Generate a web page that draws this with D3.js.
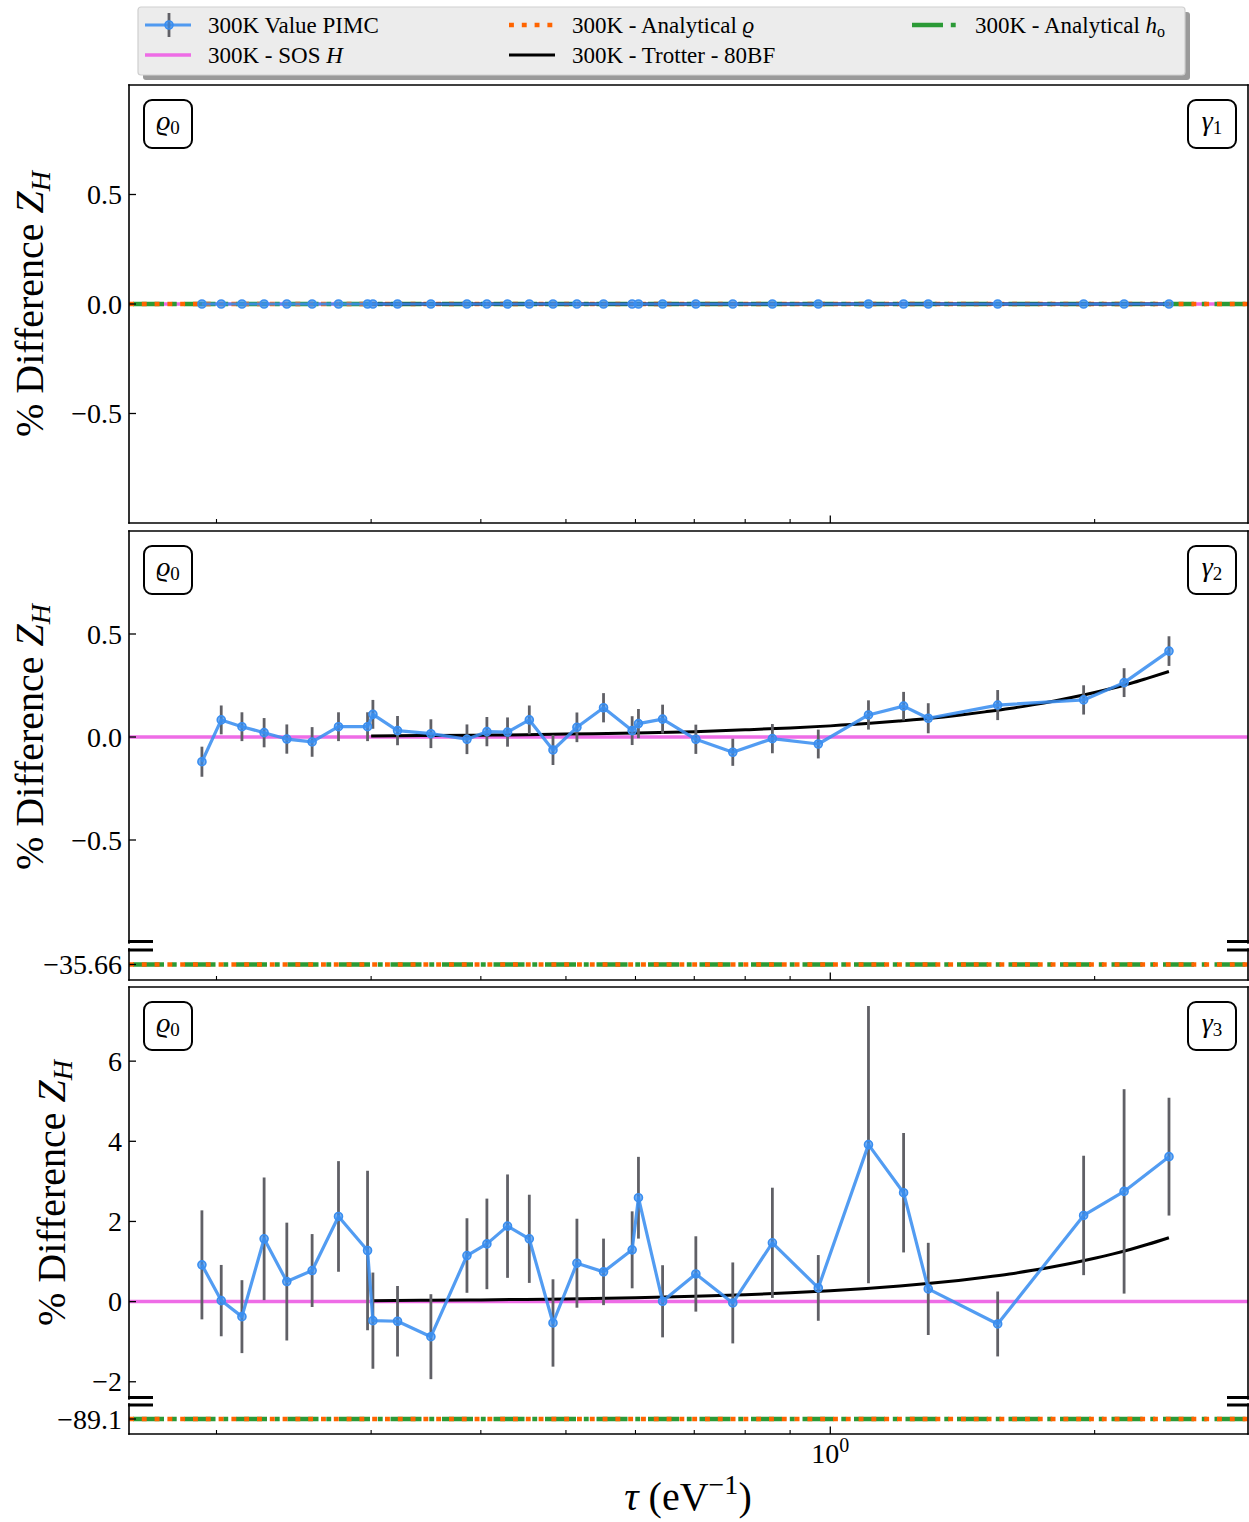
<!DOCTYPE html>
<html>
<head>
<meta charset="utf-8">
<script src="https://cdn.jsdelivr.net/npm/d3@7"></script>
<style>
  body { margin: 0; background: #fff; }
  svg { display: block; }
</style>
</head>
<body>
<svg id="chart" width="1249" height="1522"></svg>
<script>
// ---- data -------------------------------------------------------------
// imaginary-time step tau (eV^-1) of the PIMC runs
const tau = [0.1925, 0.2025, 0.2138, 0.2266, 0.2405, 0.2570, 0.2754, 0.2972,
             0.3014, 0.3215, 0.3509, 0.3857, 0.4064, 0.4290, 0.4542, 0.4833,
             0.5146, 0.5518, 0.5948, 0.6047, 0.6442, 0.7029, 0.7744, 0.8591,
             0.9690, 1.1053, 1.2119, 1.2929, 1.5510, 1.9431, 2.1606, 2.4305];

// % difference of Z_H for the three coupling cases
const pimcG1 = [0, 0, 0, 0, 0, 0, 0, 0, 0, 0, 0, 0, 0, 0, 0, 0,
                0, 0, 0, 0, 0, 0, 0, 0, 0, 0, 0, 0, 0, 0, 0, 0];
const errG1  = [0.004, 0.004, 0.004, 0.004, 0.004, 0.004, 0.004, 0.004,
                0.004, 0.004, 0.004, 0.004, 0.004, 0.004, 0.004, 0.004,
                0.004, 0.004, 0.004, 0.004, 0.004, 0.004, 0.004, 0.004,
                0.004, 0.004, 0.004, 0.004, 0.004, 0.004, 0.004, 0.004];

const pimcG2 = [-0.120, 0.083, 0.050, 0.021, -0.010, -0.024, 0.050, 0.050,
                 0.110, 0.031, 0.016, -0.011, 0.026, 0.024, 0.083, -0.063,
                 0.047, 0.142, 0.031, 0.065, 0.087, -0.011, -0.074, -0.008,
                -0.034, 0.107, 0.150, 0.091, 0.155, 0.180, 0.264, 0.417];
const errG2  = [0.073, 0.070, 0.070, 0.071, 0.071, 0.072, 0.070, 0.070,
                0.070, 0.071, 0.070, 0.072, 0.071, 0.071, 0.070, 0.073,
                0.072, 0.071, 0.070, 0.071, 0.070, 0.071, 0.066, 0.071,
                0.070, 0.071, 0.069, 0.073, 0.073, 0.071, 0.070, 0.072];

const pimcG3 = [0.917, 0.025, -0.375, 1.567, 0.500, 0.775, 2.125, 1.275,
               -0.475, -0.490, -0.875, 1.150, 1.440, 1.883, 1.567, -0.533,
                0.958, 0.742, 1.292, 2.592, 0.008, 0.690, -0.033, 1.467,
                0.342, 3.917, 2.717, 0.317, -0.558, 2.150, 2.750, 3.617];
const errG3  = [1.36, 0.89, 0.91, 1.53, 1.47, 0.91, 1.38, 1.99,
                1.20, 0.88, 1.06, 0.93, 1.13, 1.29, 1.10, 1.09,
                1.11, 0.83, 0.96, 1.02, 0.90, 0.94, 1.01, 1.375,
                0.82, 3.46, 1.49, 1.15, 0.81, 1.49, 2.55, 1.47];

// Trotter (80 beads) reference curve
const trotterTau = [0.30, 0.35, 0.40, 0.45, 0.50, 0.60, 0.70, 0.80, 0.90, 1.00,
                    1.10, 1.20, 1.30, 1.40, 1.50, 1.60, 1.70, 1.80, 1.90, 2.00,
                    2.10, 2.20, 2.30, 2.43];
const trotterG1 = [0, 0, 0, 0, 0, 0, 0, 0, 0, 0, 0, 0,
                   0, 0, 0, 0, 0, 0, 0, 0, 0, 0, 0, 0];
const trotterG2 = [0.005, 0.007, 0.009, 0.011, 0.014, 0.019, 0.026, 0.035, 0.044, 0.054,
                   0.065, 0.078, 0.091, 0.106, 0.122, 0.138, 0.156, 0.175, 0.195, 0.216,
                   0.238, 0.261, 0.286, 0.318];
const trotterG3 = [0.024, 0.033, 0.043, 0.055, 0.068, 0.097, 0.132, 0.173, 0.219, 0.270,
                   0.327, 0.389, 0.456, 0.529, 0.608, 0.690, 0.780, 0.875, 0.975, 1.080,
                   1.190, 1.307, 1.430, 1.594];

// constant reference levels per panel
const analyticalRho = [0, -35.66, -89.1];
const analyticalHo  = [0, -35.66, -89.1];
const sosH          = [0, 0, 0];

// tick values
const yTicksFine  = [-0.5, 0, 0.5];
const yTicksWide  = [-2, 0, 2, 4, 6];
const xMajorTicks = [1];
const xMinorTicks = [0.2, 0.3, 0.4, 0.5, 0.6, 0.7, 0.8, 0.9, 2, 3];

const panelTags = ["1", "2", "3"];

// ---- setup ------------------------------------------------------------
const FONT = "'Liberation Serif', 'DejaVu Serif', serif";
const svg = d3.select("#chart").style("font-family", FONT);
const X_LEFT = 129, X_RIGHT = 1248;
const x = d3.scaleLog().domain([0.159, 2.99]).range([X_LEFT, X_RIGHT]);

const C = {
  pimc: "#3a8ef0", err: "#606066", sos: "#ee6ce6",
  rho: "#ff6400", ho: "#2b9a36", trotter: "#000000"
};

const panels = [
  { pimc: pimcG1, err: errG1, trotter: trotterG1, rho: analyticalRho[0], ho: analyticalHo[0], sos: sosH[0],
    tag: panelTags[0], labelX: 31,
    upper: { top: 85, bottom: 523, domain: [-1, 1], ticks: yTicksFine, fmt: ".1f", bottomSpine: true },
    lower: null },
  { pimc: pimcG2, err: errG2, trotter: trotterG2, rho: analyticalRho[1], ho: analyticalHo[1], sos: sosH[1],
    tag: panelTags[1], labelX: 31,
    upper: { top: 531, bottom: 943, domain: [-1, 1], ticks: yTicksFine, fmt: ".1f", bottomSpine: false },
    lower: { top: 949, bottom: 980, center: analyticalRho[1], fmt: ".2f", xLabels: false } },
  { pimc: pimcG3, err: errG3, trotter: trotterG3, rho: analyticalRho[2], ho: analyticalHo[2], sos: sosH[2],
    tag: panelTags[2], labelX: 53,
    upper: { top: 987, bottom: 1399, domain: [-2.43, 7.85], ticks: yTicksWide, fmt: "d", bottomSpine: false },
    lower: { top: 1404, bottom: 1434, center: analyticalRho[2], fmt: ".1f", xLabels: true } }
];

const defs = svg.append("defs");
let clipCount = 0;

function drawSeries(P, y, top, bottom) {
  const id = "clip" + (clipCount++);
  defs.append("clipPath").attr("id", id)
    .append("rect").attr("x", X_LEFT).attr("y", top)
    .attr("width", X_RIGHT - X_LEFT).attr("height", bottom - top);
  const g = svg.append("g").attr("clip-path", `url(#${id})`);

  // SOS H reference
  g.append("line").attr("x1", X_LEFT).attr("x2", X_RIGHT)
    .attr("y1", y(P.sos)).attr("y2", y(P.sos))
    .attr("stroke", C.sos).attr("stroke-width", 3.5);

  // analytical h_o (dash-dot) and analytical rho (dotted)
  g.append("line").attr("x1", X_LEFT).attr("x2", X_RIGHT)
    .attr("y1", y(P.ho)).attr("y2", y(P.ho))
    .attr("stroke", C.ho).attr("stroke-width", 4.6)
    .attr("stroke-dasharray", "31 7.8 4.9 7.8").attr("stroke-dashoffset", -4);
  g.append("line").attr("x1", X_LEFT).attr("x2", X_RIGHT)
    .attr("y1", y(P.rho)).attr("y2", y(P.rho))
    .attr("stroke", C.rho).attr("stroke-width", 4.6)
    .attr("stroke-dasharray", "4.9 7.9");

  // Trotter curve
  g.append("path").datum(d3.zip(trotterTau, P.trotter))
    .attr("d", d3.line().x(d => x(d[0])).y(d => y(d[1])).curve(d3.curveMonotoneX))
    .attr("fill", "none").attr("stroke", C.trotter).attr("stroke-width", 3);

  // PIMC error bars
  const idx = d3.range(tau.length);
  g.selectAll(null).data(idx).join("line")
    .attr("x1", i => x(tau[i])).attr("x2", i => x(tau[i]))
    .attr("y1", i => y(P.pimc[i] - P.err[i])).attr("y2", i => y(P.pimc[i] + P.err[i]))
    .attr("stroke", C.err).attr("stroke-width", 2.8);

  // PIMC line and markers
  g.append("path").datum(idx)
    .attr("d", d3.line().x(i => x(tau[i])).y(i => y(P.pimc[i])))
    .attr("fill", "none").attr("stroke", C.pimc).attr("stroke-width", 3.2)
    .attr("stroke-opacity", 0.88).attr("stroke-linejoin", "round");
  g.selectAll(null).data(idx).join("circle")
    .attr("cx", i => x(tau[i])).attr("cy", i => y(P.pimc[i])).attr("r", 4)
    .attr("fill", C.pimc).attr("fill-opacity", 0.7)
    .attr("stroke", C.pimc).attr("stroke-width", 1.6);
}

function spine(x1, y1, x2, y2) {
  svg.append("line").attr("x1", x1).attr("y1", y1).attr("x2", x2).attr("y2", y2)
    .attr("stroke", "#000").attr("stroke-width", 1.6).attr("stroke-linecap", "square");
}

function yTicks(y, values, fmt) {
  const f = d3.format(fmt);
  values.forEach(v => {
    const yy = y(v);
    svg.append("line").attr("x1", X_LEFT).attr("x2", X_LEFT + 7)
      .attr("y1", yy).attr("y2", yy).attr("stroke", "#000").attr("stroke-width", 1.3);
    svg.append("text").attr("x", X_LEFT - 7).attr("y", yy).attr("dy", "0.34em")
      .attr("text-anchor", "end").attr("font-size", 28).text(f(v));
  });
}

function xTicks(yb, withLabels) {
  const [d0, d1] = x.domain();
  xMinorTicks.filter(t => t >= d0 && t <= d1).forEach(t => {
    svg.append("line").attr("x1", x(t)).attr("x2", x(t)).attr("y1", yb).attr("y2", yb - 4)
      .attr("stroke", "#000").attr("stroke-width", 1.1);
  });
  xMajorTicks.forEach(t => {
    svg.append("line").attr("x1", x(t)).attr("x2", x(t)).attr("y1", yb).attr("y2", yb - 7.5)
      .attr("stroke", "#000").attr("stroke-width", 1.3);
    if (withLabels) {
      const tx = svg.append("text").attr("x", x(t)).attr("y", yb + 29)
        .attr("text-anchor", "middle").attr("font-size", 28);
      tx.append("tspan").text("10");
      tx.append("tspan").attr("font-size", 20).attr("dy", -11).text(Math.round(Math.log10(t)));
    }
  });
}

function tagBox(x0, y0, sym, sub) {
  svg.append("rect").attr("x", x0).attr("y", y0).attr("width", 48).attr("height", 48)
    .attr("rx", 8).attr("fill", "#fff").attr("stroke", "#000").attr("stroke-width", 2);
  const t = svg.append("text").attr("x", x0 + 24).attr("y", y0 + 30)
    .attr("text-anchor", "middle").attr("font-size", 28);
  t.append("tspan").attr("font-style", "italic").text(sym);
  t.append("tspan").attr("font-size", 19).attr("dy", 4).text(sub);
}

function breakMarks(yUp, yLow) {
  [yUp, yLow].forEach(yy => {
    svg.append("line").attr("x1", 128).attr("x2", 153).attr("y1", yy).attr("y2", yy)
      .attr("stroke", "#000").attr("stroke-width", 3);
    svg.append("line").attr("x1", 1227).attr("x2", 1249).attr("y1", yy).attr("y2", yy)
      .attr("stroke", "#000").attr("stroke-width", 3);
  });
}

panels.forEach(P => {
  const U = P.upper;
  const yU = d3.scaleLinear().domain(U.domain).range([U.bottom, U.top]);
  drawSeries(P, yU, U.top, U.bottom);

  // frame of the upper axes
  spine(X_LEFT, U.top, X_RIGHT, U.top);
  spine(X_LEFT, U.top, X_LEFT, U.bottom);
  spine(X_RIGHT, U.top, X_RIGHT, U.bottom);
  if (U.bottomSpine) {
    spine(X_LEFT, U.bottom, X_RIGHT, U.bottom);
    xTicks(U.bottom, false);
  }
  yTicks(yU, U.ticks, U.fmt);

  if (P.lower) {
    const L = P.lower;
    const yL = d3.scaleLinear().domain([L.center - 1, L.center + 1]).range([L.bottom, L.top]);
    drawSeries(P, yL, L.top, L.bottom);
    spine(X_LEFT, L.top, X_LEFT, L.bottom);
    spine(X_RIGHT, L.top, X_RIGHT, L.bottom);
    spine(X_LEFT, L.bottom, X_RIGHT, L.bottom);
    yTicks(yL, [L.center], L.fmt);
    xTicks(L.bottom, L.xLabels);
    breakMarks(U.bottom - 1.5, L.top + 1);
  }

  // panel tags
  tagBox(144, U.top + 15, "\u03F1", "0");
  tagBox(1188, U.top + 15, "\u03B3", P.tag);

  // y axis label
  const yl = svg.append("text")
    .attr("transform", `translate(${P.labelX},${(U.top + U.bottom) / 2}) rotate(-90)`)
    .attr("text-anchor", "middle").attr("dy", "0.3em").attr("font-size", 40);
  yl.append("tspan").text("% Difference ");
  yl.append("tspan").attr("font-style", "italic").text("Z");
  yl.append("tspan").attr("font-style", "italic").attr("font-size", 28).attr("dy", 7).text("H");
});

// x axis label
const xl = svg.append("text").attr("x", 688).attr("y", 1510)
  .attr("text-anchor", "middle").attr("font-size", 40);
xl.append("tspan").attr("font-style", "italic").text("\u03C4");
xl.append("tspan").text(" (eV");
xl.append("tspan").attr("font-size", 28).attr("dy", -16).text("\u22121");
xl.append("tspan").attr("dy", 16).text(")");

// ---- legend -----------------------------------------------------------
const legendLabels = [
  [["300K Value PIMC"]],
  [["300K - SOS "], ["H", "i"]],
  [["300K - Analytical "], ["\u03F1", "i"]],
  [["300K - Trotter - 80BF"]],
  [["300K - Analytical "], ["h", "i"], ["o", "sub"]]
];
const legendKinds = ["pimc", "sos", "rho", "trotter", "ho"];
const legendCols = [145, 145, 509, 509, 912];
const legendRows = [25, 55, 25, 55, 25];

const lg = svg.append("g");
lg.append("rect").attr("x", 143).attr("y", 12).attr("width", 1047).attr("height", 68)
  .attr("rx", 3).attr("fill", "#9a9a9a");
lg.append("rect").attr("x", 138).attr("y", 7).attr("width", 1047).attr("height", 68)
  .attr("rx", 3).attr("fill", "#ececec").attr("stroke", "#cfcfcf").attr("stroke-width", 1.2);

legendKinds.forEach((k, i) => {
  const hx = legendCols[i], hy = legendRows[i], hw = 46;
  const line = lg.append("line").attr("x1", hx).attr("x2", hx + hw).attr("y1", hy).attr("y2", hy);
  if (k === "pimc") {
    lg.append("line").attr("x1", hx + 24).attr("x2", hx + 24).attr("y1", hy - 12).attr("y2", hy + 12)
      .attr("stroke", C.err).attr("stroke-width", 2.8);
    line.attr("stroke", C.pimc).attr("stroke-width", 3.2).attr("stroke-opacity", 0.88);
    lg.append("circle").attr("cx", hx + 24).attr("cy", hy).attr("r", 4)
      .attr("fill", C.pimc).attr("fill-opacity", 0.7).attr("stroke", C.pimc).attr("stroke-width", 1.6);
  } else if (k === "sos") {
    line.attr("stroke", C.sos).attr("stroke-width", 3.5);
  } else if (k === "rho") {
    line.attr("stroke", C.rho).attr("stroke-width", 4.6).attr("stroke-dasharray", "4.9 7.9");
  } else if (k === "trotter") {
    line.attr("stroke", C.trotter).attr("stroke-width", 3);
  } else {
    line.attr("stroke", C.ho).attr("stroke-width", 4.6).attr("stroke-dasharray", "31 7.8 4.9 7.8");
  }
  const t = lg.append("text").attr("x", hx + 63).attr("y", hy + 8).attr("font-size", 23);
  legendLabels[i].forEach(seg => {
    const s = t.append("tspan").text(seg[0]);
    if (seg[1] === "i") s.attr("font-style", "italic");
    if (seg[1] === "sub") s.attr("font-size", 16).attr("dy", 4);
  });
});
</script>
</body>
</html>
